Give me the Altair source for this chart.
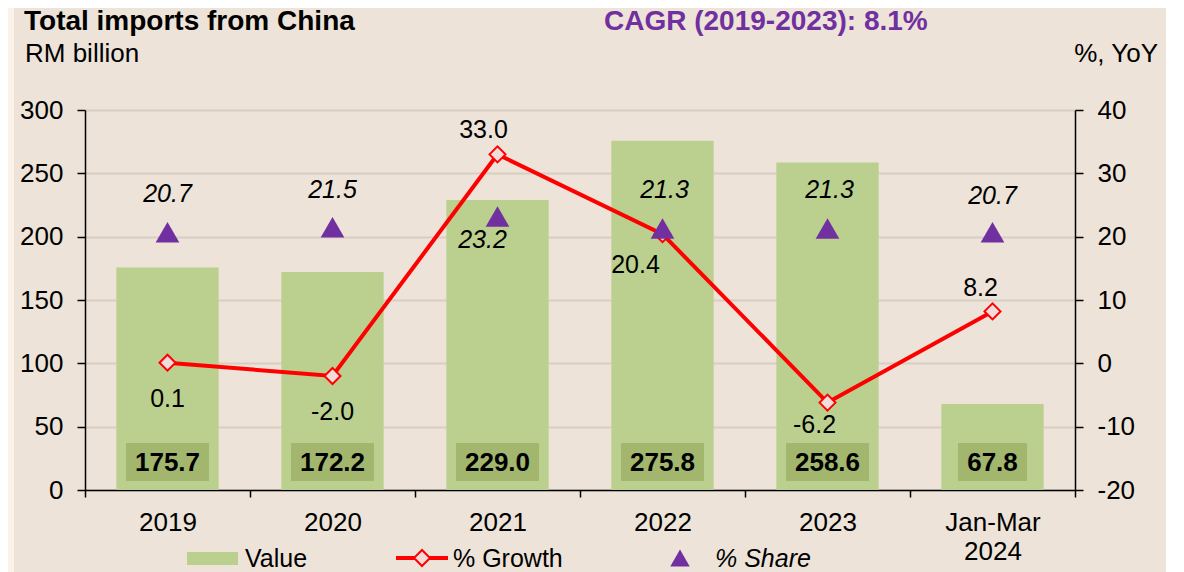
import altair as alt
import pandas as pd

# ---- data ----
categories = ["2019", "2020", "2021", "2022", "2023", "Jan-Mar 2024"]
values = [175.7, 172.2, 229.0, 275.8, 258.6, 67.8]
growth = [0.1, -2.0, 33.0, 20.4, -6.2, 8.2]
share = [20.7, 21.5, 23.2, 21.3, 21.3, 20.7]
left_ticks = [0, 50, 100, 150, 200, 250, 300]
right_ticks = [-20, -10, 0, 10, 20, 30, 40]

df = pd.DataFrame({"cat": categories, "value": values, "growth": growth, "share": share})

# ---- styles ----
FONT = "Liberation Sans"
BG = "#EDE3D8"
EDGE = "#FDF2EA"
BAR = "#BBD08E"
BOX = "#A2B66E"
RED = "#FF0000"
PURPLE = "#7030A0"
GRID = "#D8CEC4"
W, H = 990, 380

# label offsets (style only, not data)
growth_off = {"2019": (0, 36), "2020": (0, 36), "2021": (-14, -24),
              "2022": (-27, 31), "2023": (-13, 22), "Jan-Mar 2024": (-12, -23)}
share_off = {"2019": (0, -38), "2020": (0, -37), "2021": (-15, 24),
             "2022": (2, -38), "2023": (2, -38), "Jan-Mar 2024": (0, -36)}

base = alt.Chart(df).transform_calculate(
    glab="replace(format(datum.growth, '.1f'), '\u2212', '-')",
    slab="format(datum.share, '.1f')",
    vlab="format(datum.value, '.1f')",
)

x_enc = alt.X(
    "cat:N", sort=categories, title=None,
    scale=alt.Scale(paddingInner=0, paddingOuter=0),
    axis=alt.Axis(
        labelAngle=0, tickBand="extent", tickSize=7, tickColor="black", tickWidth=1.5,
        domainColor="black", domainWidth=1.5, labelFontSize=26, labelFont=FONT,
        labelColor="black", labelPadding=12, labelLineHeight=29,
        labelExpr="datum.label == 'Jan-Mar 2024' ? ['Jan-Mar', '2024'] : datum.label",
    ),
)
x_plain = alt.X("cat:N", sort=categories)

bars = base.mark_bar(width={"band": 0.62}, color=BAR).encode(
    x=x_enc,
    y=alt.Y(
        "value:Q", title=None,
        scale=alt.Scale(domain=[0, 300], nice=False, zero=True),
        axis=alt.Axis(
            values=left_ticks, orient="left", grid=True, gridColor=GRID, gridWidth=2,
            tickSize=8, tickColor="black", tickWidth=1.5, domainColor="black",
            domainWidth=1.5, labelFontSize=26, labelFont=FONT, labelColor="black",
            labelPadding=14,
        ),
    ),
)

box5 = base.transform_filter("length(datum.vlab) >= 5").mark_bar(
    width=83, color=BOX
).encode(x=x_plain, y=alt.value(333), y2=alt.value(371))
box4 = base.transform_filter("length(datum.vlab) < 5").mark_bar(
    width=69, color=BOX
).encode(x=x_plain, y=alt.value(333), y2=alt.value(371))

val_text = base.mark_text(
    font=FONT, fontSize=26, fontWeight="bold", color="black", baseline="middle"
).encode(x=x_plain, y=alt.value(353), text="vlab:N")

left_layer = alt.layer(bars, box5, box4, val_text)

yscale_r = alt.Scale(domain=[-20, 40], nice=False, zero=False)
raxis = alt.Axis(
    values=right_ticks, orient="right", grid=False, tickSize=8,
    tickColor="black", tickWidth=1.5, domainColor="black", domainWidth=1.5,
    labelFontSize=26, labelFont=FONT, labelColor="black", labelPadding=14,
    labelExpr="replace(datum.label, '\u2212', '-')",
)


def ry(field):
    return alt.Y(field, title=None, scale=yscale_r, axis=raxis)


line = base.mark_line(color=RED, strokeWidth=4).encode(x=x_plain, y=ry("growth:Q"))
pts = base.mark_point(
    shape="diamond", size=256, filled=True, fill="#F2DCDB", stroke=RED,
    strokeWidth=2, opacity=1,
).encode(x=x_plain, y=ry("growth:Q"))

tris = base.mark_point(
    shape="triangle-up", size=560, filled=True, color=PURPLE, opacity=1
).encode(x=x_plain, y=ry("share:Q"))

glabels = []
slabels = []
for c in categories:
    dx, dy = growth_off[c]
    glabels.append(
        base.transform_filter(alt.datum.cat == c).mark_text(
            font=FONT, fontSize=25, color="black", dx=dx, dy=dy, baseline="middle"
        ).encode(x=x_plain, y=ry("growth:Q"), text="glab:N")
    )
    sdx, sdy = share_off[c]
    slabels.append(
        base.transform_filter(alt.datum.cat == c).mark_text(
            font=FONT, fontSize=25, fontStyle="italic", color="black",
            dx=sdx, dy=sdy, baseline="middle"
        ).encode(x=x_plain, y=ry("share:Q"), text="slab:N")
    )

right_layer = alt.layer(line, pts, tris, *glabels, *slabels)

# ---- titles, frame strip & legend (decoration) ----
one = alt.Chart(pd.DataFrame({"k": [0]}))


def txt(t, xv, yv, size=25, weight="normal", style="normal", color="black",
        align="left", baseline="alphabetic"):
    return one.mark_text(
        text=t, font=FONT, fontSize=size, fontWeight=weight, fontStyle=style,
        color=color, align=align, baseline=baseline,
    ).encode(x=alt.value(xv), y=alt.value(yv))


edge_left = one.mark_rect(color=EDGE).encode(
    x=alt.value(-77), x2=alt.value(-71), y=alt.value(-102), y2=alt.value(470)
)
title1 = txt("Total imports from China", -61, -80.5, size=28, weight="bold")
title2 = txt("RM billion", -60, -48, size=26)
cagr = txt("CAGR (2019-2023): 8.1%", 519, -80.5, size=28, weight="bold", color=PURPLE)
yoy = txt("%, YoY", 1073, -48, size=26, align="right")

leg_rect = one.mark_rect(color=BAR).encode(
    x=alt.value(102), x2=alt.value(153), y=alt.value(442), y2=alt.value(455)
)
leg_val = txt("Value", 160, 449, baseline="middle")
leg_line = one.mark_rule(color=RED, strokeWidth=4).encode(
    x=alt.value(311), x2=alt.value(363), y=alt.value(448)
)
leg_dia = one.mark_point(
    shape="diamond", size=256, filled=True, fill="#F2DCDB", stroke=RED,
    strokeWidth=2, opacity=1,
).encode(x=alt.value(337), y=alt.value(448))
leg_grow = txt("% Growth", 368, 449, baseline="middle")
leg_tri = one.mark_point(
    shape="triangle-up", size=380, filled=True, color=PURPLE, opacity=1
).encode(x=alt.value(595), y=alt.value(448))
leg_share = txt("% Share", 630, 449, style="italic", baseline="middle")

deco = alt.layer(edge_left, title1, title2, cagr, yoy, leg_rect, leg_val, leg_line,
                 leg_dia, leg_grow, leg_tri, leg_share)

chart = (
    alt.layer(left_layer, right_layer, deco)
    .resolve_scale(y="independent")
    .properties(
        width=W, height=H, background=BG,
        padding={"left": 77, "top": 102, "right": 91, "bottom": 84},
        autosize=alt.AutoSizeParams(type="none"),
    )
    .configure_view(stroke=None)
)

chart.save("out.html", embed_options={"renderer": "svg", "actions": False})
